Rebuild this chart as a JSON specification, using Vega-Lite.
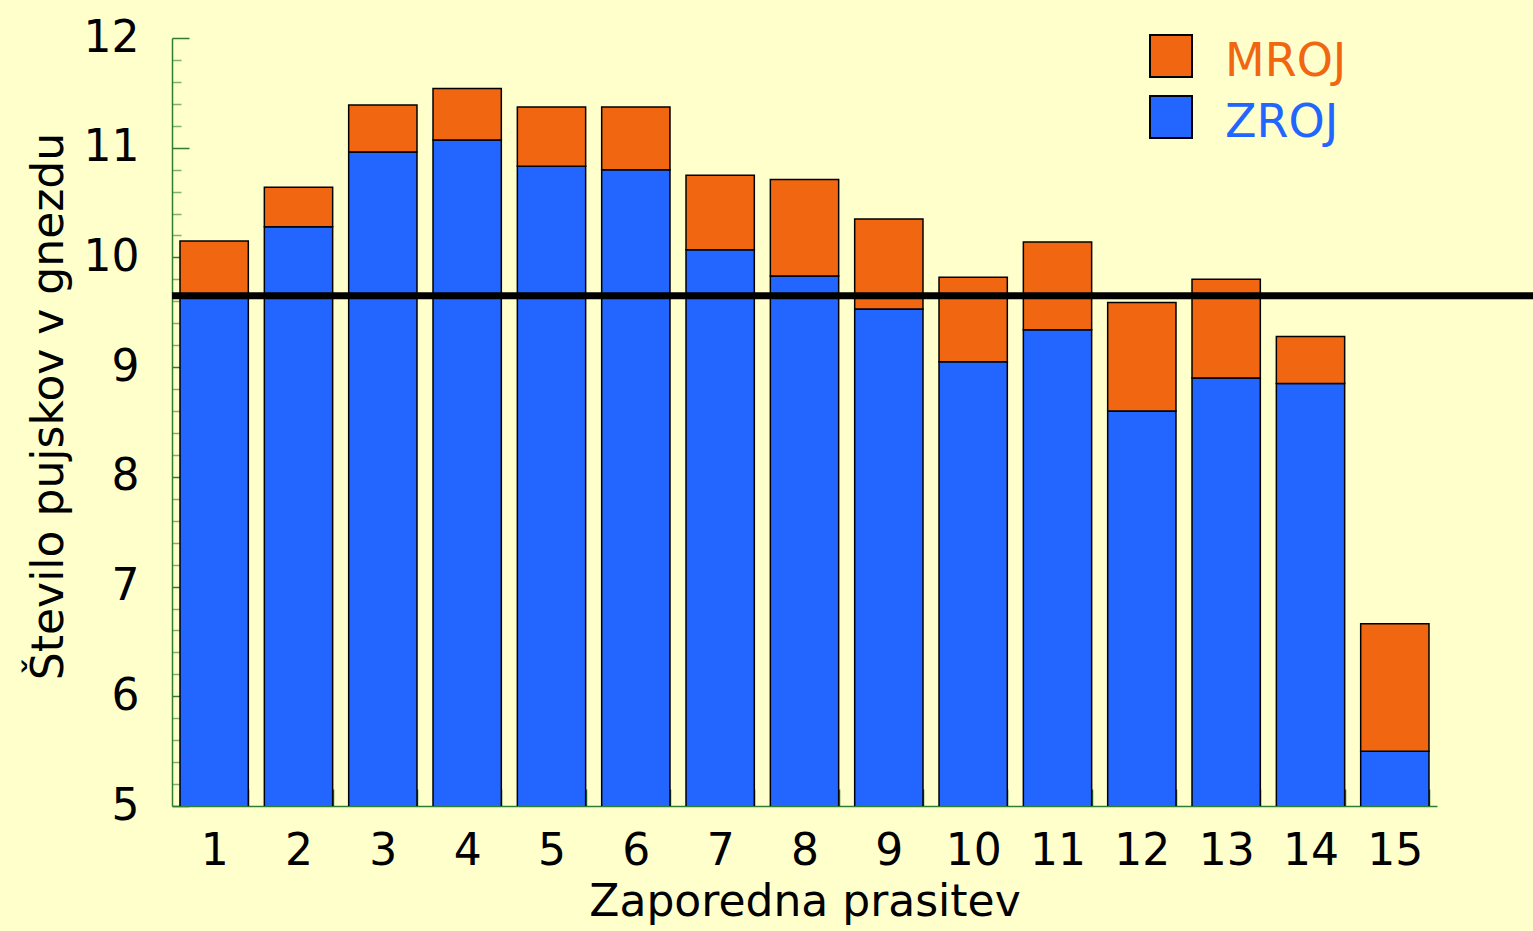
{
  "$schema": "https://vega.github.io/schema/vega-lite/v6.json",
  "width": 1361,
  "height": 768,
  "autosize": {"type": "none"},
  "padding": {"left": 172, "top": 38, "right": 0, "bottom": 125},
  "background": "#FFFFCC",
  "config": {"view": {"stroke": null}, "font": "DejaVu Sans"},
  "datasets": {
    "legla": [
      {"prasitev": 1, "serija": "ZROJ", "stevilo": 9.64}, {"prasitev": 1, "serija": "MROJ", "stevilo": 0.51},
      {"prasitev": 2, "serija": "ZROJ", "stevilo": 10.28}, {"prasitev": 2, "serija": "MROJ", "stevilo": 0.36},
      {"prasitev": 3, "serija": "ZROJ", "stevilo": 10.96}, {"prasitev": 3, "serija": "MROJ", "stevilo": 0.43},
      {"prasitev": 4, "serija": "ZROJ", "stevilo": 11.07}, {"prasitev": 4, "serija": "MROJ", "stevilo": 0.47},
      {"prasitev": 5, "serija": "ZROJ", "stevilo": 10.83}, {"prasitev": 5, "serija": "MROJ", "stevilo": 0.54},
      {"prasitev": 6, "serija": "ZROJ", "stevilo": 10.80}, {"prasitev": 6, "serija": "MROJ", "stevilo": 0.57},
      {"prasitev": 7, "serija": "ZROJ", "stevilo": 10.07}, {"prasitev": 7, "serija": "MROJ", "stevilo": 0.68},
      {"prasitev": 8, "serija": "ZROJ", "stevilo": 9.83}, {"prasitev": 8, "serija": "MROJ", "stevilo": 0.88},
      {"prasitev": 9, "serija": "ZROJ", "stevilo": 9.53}, {"prasitev": 9, "serija": "MROJ", "stevilo": 0.82},
      {"prasitev": 10, "serija": "ZROJ", "stevilo": 9.05}, {"prasitev": 10, "serija": "MROJ", "stevilo": 0.77},
      {"prasitev": 11, "serija": "ZROJ", "stevilo": 9.34}, {"prasitev": 11, "serija": "MROJ", "stevilo": 0.80},
      {"prasitev": 12, "serija": "ZROJ", "stevilo": 8.60}, {"prasitev": 12, "serija": "MROJ", "stevilo": 0.99},
      {"prasitev": 13, "serija": "ZROJ", "stevilo": 8.90}, {"prasitev": 13, "serija": "MROJ", "stevilo": 0.90},
      {"prasitev": 14, "serija": "ZROJ", "stevilo": 8.85}, {"prasitev": 14, "serija": "MROJ", "stevilo": 0.43},
      {"prasitev": 15, "serija": "ZROJ", "stevilo": 5.50}, {"prasitev": 15, "serija": "MROJ", "stevilo": 1.16}
    ],
    "povp": [{"povprecje": 9.65}]
  },
  "layer": [
    {
      "data": {"name": "legla"},
      "mark": {"type": "bar", "clip": true, "stroke": "black", "strokeWidth": 1.5},
      "encoding": {
        "x": {
          "field": "prasitev", "type": "ordinal",
          "scale": {"range": [0, 1265], "paddingInner": 0.19, "paddingOuter": 0.095},
          "axis": {
            "orient": "bottom", "title": "Zaporedna prasitev", "titleFontSize": 44, "titleFontWeight": "normal",
            "titleColor": "black", "titlePadding": 7, "labelFontSize": 44, "labelColor": "black", "labelAngle": 0,
            "labelPadding": 40, "tickBand": "extent", "tickSize": -17, "tickColor": "#2E7D32", "tickWidth": 1.5,
            "domainColor": "#2E7D32", "domainWidth": 1.5, "grid": false
          }
        },
        "y": {
          "field": "stevilo", "type": "quantitative", "stack": "zero",
          "scale": {"domain": [5, 12], "nice": false, "zero": false},
          "axis": {
            "orient": "left", "values": [5, 6, 7, 8, 9, 10, 11, 12], "title": "Število pujskov v gnezdu",
            "titleFontSize": 44, "titleFontWeight": "normal", "titleColor": "black", "titlePadding": 12,
            "titleY": 368,
            "labelFontSize": 44, "labelColor": "black", "labelPadding": 50, "tickSize": -17,
            "tickColor": "#2E7D32", "tickWidth": 1.5, "domainColor": "#2E7D32", "domainWidth": 1.5, "grid": false
          }
        },
        "color": {
          "field": "serija", "type": "nominal",
          "scale": {"domain": ["MROJ", "ZROJ"], "range": ["#F06611", "#2266FF"]},
          "legend": {
            "orient": "none", "legendX": 976, "legendY": -5, "title": null, "symbolType": "square",
            "symbolSize": 1764, "symbolStrokeColor": "black", "symbolStrokeWidth": 2, "symbolOpacity": 1,
            "labelFontSize": 46, "labelOffset": 31, "rowPadding": 7,
            "encode": {"labels": {"update": {"fill": {"signal": "datum.label === 'MROJ' ? '#F06611' : '#2266FF'"}, "dy": {"value": 6}}}}
          }
        },
        "order": {"field": "serija", "sort": "descending"}
      }
    },
    {
      "data": {"name": "povp"},
      "mark": {"type": "rule", "color": "black", "strokeWidth": 7},
      "encoding": {
        "y": {
          "field": "povprecje", "type": "quantitative",
          "axis": {
            "orient": "left", "title": null, "labels": false, "domain": false, "grid": false,
            "tickSize": -9, "tickColor": "#2E7D32", "tickOpacity": 0.6, "tickWidth": 1.5,
            "values": [5.2, 5.4, 5.6, 5.8, 6.2, 6.4, 6.6, 6.8, 7.2, 7.4, 7.6, 7.8, 8.2, 8.4, 8.6, 8.8, 9.2, 9.4, 9.6, 9.8, 10.2, 10.4, 10.6, 10.8, 11.2, 11.4, 11.6, 11.8]
          }
        }
      }
    },
    {
      "data": {"name": "legla"},
      "mark": {"type": "point", "opacity": 0},
      "encoding": {
        "x": {
          "field": "prasitev", "type": "ordinal",
          "axis": {
            "orient": "bottom", "title": null, "labels": false, "domain": false, "grid": false,
            "tickSize": -8, "tickColor": "#2E7D32", "tickWidth": 1.5
          }
        }
      }
    }
  ],
  "resolve": {"axis": {"x": "independent", "y": "independent"}}
}
